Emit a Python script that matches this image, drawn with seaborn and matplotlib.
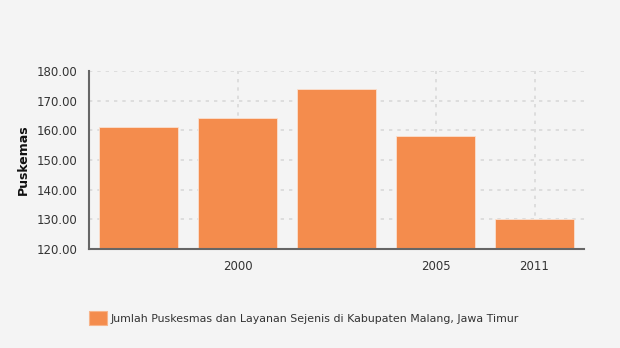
import matplotlib
matplotlib.use("Agg")
import matplotlib.pyplot as plt
import seaborn as sns
import pandas as pd

categories = ["c1", "c2", "c3", "c4", "c5"]
tick_labels = ["", "2000", "", "2005", "2011"]
values = [161, 164, 174, 158, 130]
series_name = "Jumlah Puskesmas dan Layanan Sejenis di Kabupaten Malang, Jawa Timur"
y_ticks = [120, 130, 140, 150, 160, 170, 180]

sns.set_style("white")
plt.rcParams['font.family'] = ['DejaVu Sans']

bg = "#f4f4f4"
bar_color = "#f48c4d"
fig = plt.figure(figsize=(6.2, 3.48), dpi=100, facecolor=bg)
ax = fig.add_axes([89/620, 1-249/348, (584-89)/620, (249-71)/348])
ax.set_facecolor(bg)

df = pd.DataFrame({"cat": categories, "val": values})
sns.barplot(data=df, x="cat", y="val", order=categories, color=bar_color,
            saturation=1, width=0.8, ax=ax, edgecolor="#fbe0cf", linewidth=0.6, zorder=3)

ax.set_ylim(120, 180)
ax.set_xlim(-0.5, 4.5)
ax.set_yticks(y_ticks)
ax.set_yticklabels([f"{v:.2f}" for v in y_ticks], fontsize=8.5, color="#333333")
shown = [i for i, t in enumerate(tick_labels) if t]
ax.set_xticks(shown)
ax.set_xticklabels([tick_labels[i] for i in shown], fontsize=8.5, color="#333333")

ax.grid(True, axis="both", linestyle=(0, (2, 3)), color="#d9d9d9", linewidth=1.2, zorder=0)
ax.set_axisbelow(True)
for s in ["top", "right"]:
    ax.spines[s].set_visible(False)
for s in ["left", "bottom"]:
    ax.spines[s].set_color("#666666")
    ax.spines[s].set_linewidth(1.5)
ax.spines["left"].set_zorder(5)
ax.spines["bottom"].set_zorder(5)
ax.tick_params(axis="both", direction="out", length=5, width=1.5, color="#666666", pad=3)
ax.set_xlabel("")
ax.set_ylabel("Puskemas", fontsize=9, fontweight="bold", labelpad=5, color="#111111")

from matplotlib.patches import Patch
handle = Patch(facecolor=bar_color, edgecolor="#f7b48a", linewidth=0.8)
leg = fig.legend([handle], [series_name], loc="upper left",
                 bbox_to_anchor=(89/620, 1-311/348), frameon=False,
                 fontsize=7.9, handlelength=1.6, handleheight=1.6,
                 handletextpad=0.4, borderaxespad=0, borderpad=0)
for t in leg.get_texts():
    t.set_color("#333333")

fig.savefig("out.png", dpi=100, facecolor=bg)
